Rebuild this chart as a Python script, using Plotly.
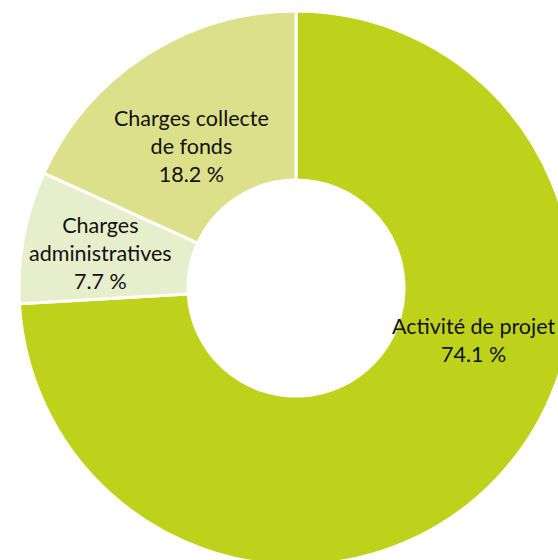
import plotly.graph_objects as go

# ---- data ----
categories = ["Activité de projet", "Charges administratives", "Charges collecte de fonds"]
display_labels = ["Activité de projet", "Charges<br>administratives", "Charges collecte<br>de fonds"]
shares = [74.1, 7.7, 18.2]
colors = ["#BED21B", "#E7EECB", "#DCE08B"]

# ---- layout geometry (pixels) ----
W, H = 573, 565
left, top = 19, 11
R = 277
label_px = [(474, 340), (100, 253), (191, 146)]

fig = go.Figure()
fig.add_trace(go.Pie(
    labels=categories,
    values=shares,
    sort=False,
    direction="clockwise",
    rotation=0,
    hole=0.39,
    textinfo="none",
    hoverinfo="label+percent",
    marker=dict(colors=colors, line=dict(color="white", width=3)),
    domain=dict(x=[left / W, (left + 2 * R) / W], y=[1 - (top + 2 * R) / H, 1 - top / H]),
    showlegend=False,
))

for lab, val, (px, py) in zip(display_labels, shares, label_px):
    fig.add_annotation(
        x=px / W, y=1 - py / H, xref="paper", yref="paper",
        text=f"{lab}<br>{val:.1f} %",
        showarrow=False, xanchor="center", yanchor="middle", align="center",
        font=dict(family="Lato", size=21.5, color="#111111"),
    )

fig.update_layout(
    width=W, height=H, autosize=False,
    margin=dict(l=0, r=0, t=0, b=0),
    paper_bgcolor="white", plot_bgcolor="white",
)

fig.write_html(
    "out.html",
    config={"displayModeBar": False},
    post_script="document.body.style.margin='0';document.body.style.overflow='hidden';document.documentElement.style.overflow='hidden';",
)
